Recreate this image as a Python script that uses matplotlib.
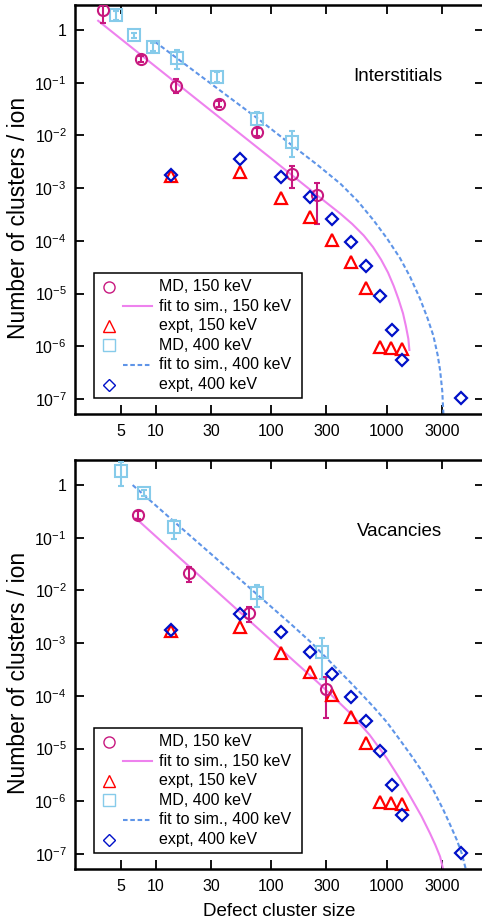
import numpy as np
import matplotlib
matplotlib.use("Agg")
import matplotlib.pyplot as plt
from matplotlib.patches import Rectangle

plt.rcParams['font.family'] = ['Liberation Sans', 'DejaVu Sans']
plt.rcParams['mathtext.fontset'] = 'custom'
plt.rcParams['mathtext.rm'] = 'Liberation Sans'
plt.rcParams['mathtext.it'] = 'Liberation Sans:italic'

# ---- experimental data (same in both panels)
expt150_x = [13.5, 53.4, 121, 216, 337, 486, 664, 864, 1086, 1361]
expt150_y = [1.72e-3, 2.05e-3, 6.6e-4, 2.8e-4, 1.04e-4, 4.0e-5, 1.29e-5, 9.5e-7, 9.1e-7, 8.7e-7]
expt400_x = [13.5, 53.4, 121, 216, 337, 486, 664, 867, 1101, 1361, 4400]
expt400_y = [1.75e-3, 3.56e-3, 1.6e-3, 6.9e-4, 2.6e-4, 9.3e-5, 3.4e-5, 9.1e-6, 2.04e-6, 5.5e-7, 1.02e-7]

# ---- interstitials (top)
int_md150_x = [3.46, 7.37, 14.8, 34.9, 74.4, 152, 246]
int_md150_y = [2.4, 0.28, 0.088, 0.040, 0.0118, 0.00186, 7.4e-4]
int_md150_lo = [1.34, 0.245, 0.063, 0.035, 0.0098, 9.9e-4, 2.1e-4]
int_md150_hi = [3.30, 0.32, 0.117, 0.046, 0.014, 2.66e-3, 1.25e-3]

int_md400_x = [4.5, 6.45, 9.5, 15.3, 34, 74.4, 150]
int_md400_y = [1.93, 0.80, 0.48, 0.29, 0.13, 0.0205, 0.0076]
int_md400_lo = [1.55, 0.72, 0.40, 0.18, 0.105, 0.0137, 0.00395]
int_md400_hi = [2.3, 0.88, 0.57, 0.417, 0.16, 0.0281, 0.0123]

# fit curves, points
int_fit150_x = [3.16, 10.0, 31.6, 100, 158, 251, 398, 501, 631, 759, 891, 1023,
                1148, 1259, 1380, 1462, 1535, 1567]
int_fit150_y = [1.5, 0.2, 0.0269, 3.63e-3, 1.62e-3, 7.2e-4, 3.24e-4, 2.09e-4, 1.26e-4,
                7.6e-5, 4.4e-5, 2.5e-5, 1.38e-5, 7.9e-6, 4.2e-6, 2.4e-6, 1.38e-6, 8.5e-7]

int_fit400_x = [9.8, 31.6, 79.4, 158, 251, 398, 562, 764, 1000, 1300, 1585, 1941,
                2239, 2529, 2754, 2891, 3020, 3090]
int_fit400_y = [0.60, 0.088, 0.0195, 6.0e-3, 2.75e-3, 1.2e-3, 5.6e-4, 2.48e-4, 1.12e-4,
                4.7e-5, 2.1e-5, 7.9e-6, 3.5e-6, 1.58e-6, 6.8e-7, 3.5e-7, 1.4e-7, 5e-8]

# ---- vacancies (bottom)
vac_md150_x = [6.95, 19.3, 64.3, 300]
vac_md150_y = [0.27, 0.0217, 3.8e-3, 1.33e-4]
vac_md150_lo = [0.23, 0.0146, 2.5e-3, 3.8e-5]
vac_md150_hi = [0.32, 0.028, 4.9e-3, 2.24e-4]

vac_md400_x = [4.94, 7.93, 14.4, 74.4, 272]
vac_md400_y = [1.87, 0.71, 0.157, 8.8e-3, 6.9e-4]
vac_md400_lo = [0.957, 0.62, 0.094, 4.9e-3, 2.05e-4]
vac_md400_hi = [2.77, 0.80, 0.217, 0.0127, 1.25e-3]

vac_fit150_x = [6.71, 15.8, 39.8, 100, 158, 251, 355, 501, 708, 1000, 1300, 1585,
                1995, 2366, 2630, 2891, 3076]
vac_fit150_y = [0.233, 0.0427, 6.9e-3, 1.12e-3, 4.5e-4, 1.82e-4, 8.9e-5, 4.3e-5, 1.82e-5,
                6.5e-6, 2.63e-6, 1.26e-6, 5.2e-7, 2.45e-7, 1.48e-7, 8.9e-8, 5.1e-8]

vac_fit400_x = [6.28, 15.8, 39.8, 100, 145, 224, 344, 501, 764, 1000, 1300, 1660,
                2070, 2570, 3090, 3548, 4036, 4467, 4831]
vac_fit400_y = [1.0, 0.168, 0.0286, 4.85e-3, 2.38e-3, 1.0e-3, 3.84e-4, 1.66e-4, 6.2e-5,
                3.16e-5, 1.45e-5, 6.9e-6, 3.4e-6, 1.51e-6, 6.8e-7, 3.5e-7, 1.84e-7, 1.0e-7, 5.1e-8]

xticks = [5, 10, 30, 100, 300, 1000, 3000]
yticks = [1e-7, 1e-6, 1e-5, 1e-4, 1e-3, 1e-2, 1e-1, 1]
ytick_labels = ['$10^{-7}$', '$10^{-6}$', '$10^{-5}$', '$10^{-4}$', '$10^{-3}$', '$10^{-2}$', '$10^{-1}$', '1']

legend_labels = ['MD, 150 keV', 'fit to sim., 150 keV', 'expt, 150 keV',
                 'MD, 400 keV', 'fit to sim., 400 keV', 'expt, 400 keV']

c_md150 = '#c8187f'
c_fit150 = '#ee82ee'
c_expt150 = '#ff0000'
c_md400 = '#86cbea'
c_fit400 = '#5f95e8'
c_expt400 = '#0010c8'


def errbars(y, lo, hi):
    y = np.array(y)
    return [y - np.array(lo), np.array(hi) - y]


def draw_panel(ax, md150, md400, fit150, fit400, title):
    ax.plot(fit150[0], fit150[1], color=c_fit150, lw=1.5, zorder=2)
    ax.plot(fit400[0], fit400[1], color=c_fit400, lw=1.5, dashes=[2.2, 1.3], zorder=2)
    ax.errorbar(md400[0], md400[1], yerr=errbars(md400[1], md400[2], md400[3]), fmt='s',
                ms=8, mfc='none', mec=c_md400, mew=1.5, ecolor=c_md400, elinewidth=1.5,
                capsize=2.5, capthick=1.5, zorder=3)
    ax.errorbar(md150[0], md150[1], yerr=errbars(md150[1], md150[2], md150[3]), fmt='o',
                ms=8, mfc='none', mec=c_md150, mew=1.5, ecolor=c_md150, elinewidth=1.5,
                capsize=2.5, capthick=1.5, zorder=4)
    ax.plot(expt150_x, expt150_y, '^', ms=8.5, mfc='none', mec=c_expt150, mew=1.6, zorder=4)
    ax.plot(expt400_x, expt400_y, 'D', ms=6.3, mfc='none', mec=c_expt400, mew=1.6, zorder=5)

    ax.set_xscale('log')
    ax.set_yscale('log')
    ax.set_xlim(1.99, 6970)
    ax.set_ylim(5.17e-8, 2.98)
    ax.set_xticks(xticks)
    ax.set_xticklabels([str(t) for t in xticks])
    ax.set_yticks(yticks)
    ax.set_yticklabels(ytick_labels)
    ax.minorticks_off()
    ax.tick_params(direction='in', length=6.5, width=1.3, labelsize=11.5,
                   top=True, right=True, pad=7)
    ax.tick_params(axis='y', pad=6)
    for s in ax.spines.values():
        s.set_linewidth(1.8)
    ax.set_ylabel('Number of clusters / ion', fontsize=16.5)
    ax.yaxis.set_label_coords(-0.11, 0.48)

    ax.text(0.897, 0.825, title, transform=ax.transAxes, ha='right', va='center', fontsize=13.5)

    # legend box drawn by hand: markers on the left, line samples to the right
    ax.add_patch(Rectangle((0.047, 0.038), 0.507, 0.308, transform=ax.transAxes,
                           fill=True, fc='white', ec='black', lw=1.1, zorder=6))
    rows = [0.311, 0.264, 0.216, 0.168, 0.1205, 0.0716]
    kw = dict(transform=ax.transAxes, clip_on=False, zorder=7)
    ax.plot([0.083], [rows[0]], 'o', ms=8, mfc='none', mec=c_md150, mew=1.0, **kw)
    ax.plot([0.118, 0.188], [rows[1]] * 2, color=c_fit150, lw=1.5, **kw)
    ax.plot([0.083], [rows[2]], '^', ms=8.5, mfc='none', mec=c_expt150, mew=1.0, **kw)
    ax.plot([0.083], [rows[3]], 's', ms=8, mfc='none', mec=c_md400, mew=1.0, **kw)
    ax.plot([0.118, 0.188], [rows[4]] * 2, color=c_fit400, lw=1.5, dashes=[2.2, 1.3], **kw)
    ax.plot([0.083], [rows[5]], 'D', ms=6.3, mfc='none', mec=c_expt400, mew=1.0, **kw)
    for r, lab in zip(rows, legend_labels):
        ax.text(0.205, r, lab, transform=ax.transAxes, ha='left', va='center',
                fontsize=11.5, zorder=7)


fig = plt.figure(figsize=(4.82, 9.19), dpi=100)
ax1 = fig.add_axes([0.1556, 0.5495, 0.849, 0.4450])
ax2 = fig.add_axes([0.1556, 0.0544, 0.849, 0.4450])

draw_panel(ax1,
           (int_md150_x, int_md150_y, int_md150_lo, int_md150_hi),
           (int_md400_x, int_md400_y, int_md400_lo, int_md400_hi),
           (int_fit150_x, int_fit150_y), (int_fit400_x, int_fit400_y),
           'Interstitials')
draw_panel(ax2,
           (vac_md150_x, vac_md150_y, vac_md150_lo, vac_md150_hi),
           (vac_md400_x, vac_md400_y, vac_md400_lo, vac_md400_hi),
           (vac_fit150_x, vac_fit150_y), (vac_fit400_x, vac_fit400_y),
           'Vacancies')
ax2.set_xlabel('Defect cluster size', fontsize=13.5, labelpad=7)

fig.savefig('out.png', dpi=100)
